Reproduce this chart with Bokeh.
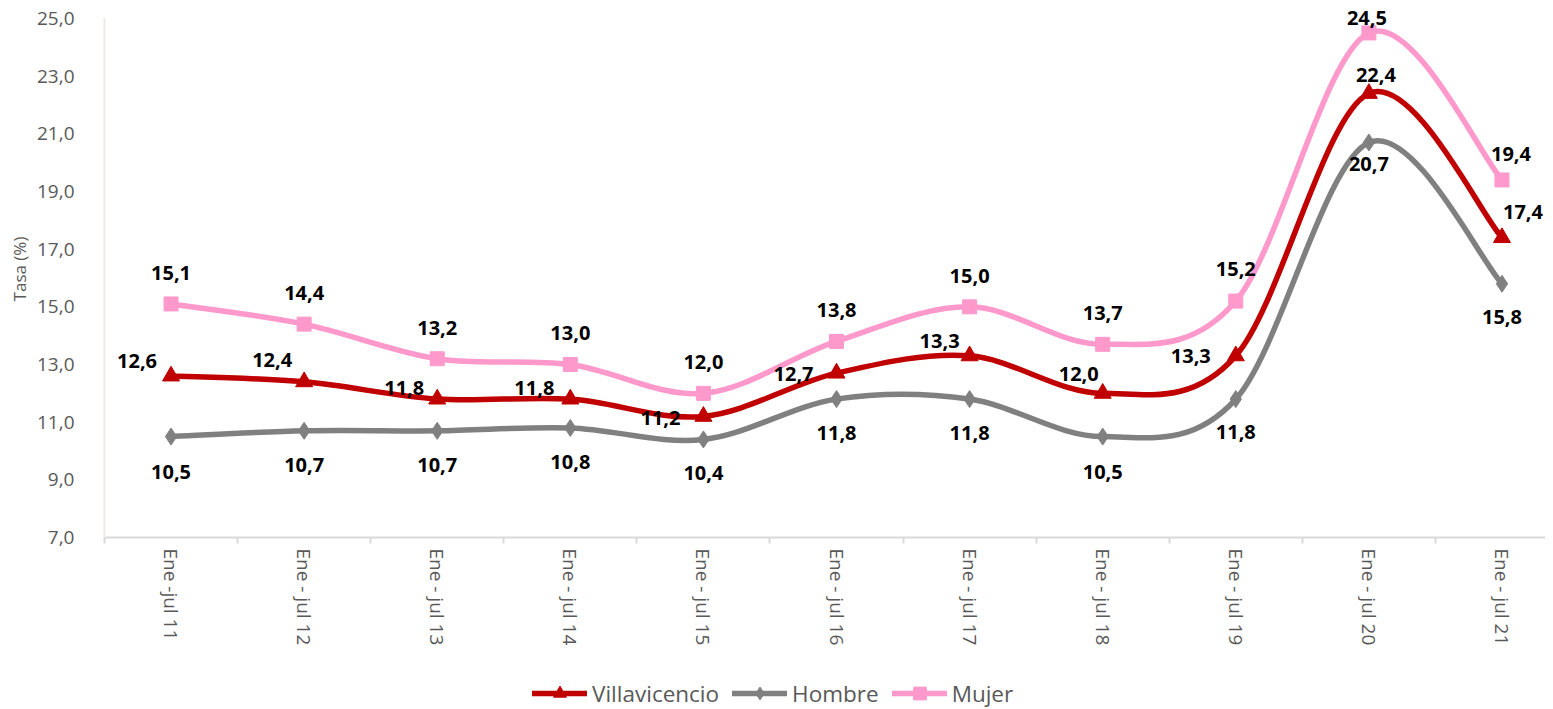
import math
from bokeh.plotting import figure
from bokeh.models import ColumnDataSource, FixedTicker, Legend, LegendItem, Range1d
from bokeh.layouts import column
from bokeh.core.properties import value
from bokeh.embed import file_html
from bokeh.resources import INLINE

# ---------------- data ----------------
categories = ["Ene -jul 11", "Ene - jul 12", "Ene - jul 13", "Ene - jul 14", "Ene - jul 15",
              "Ene - jul 16", "Ene - jul 17", "Ene - jul 18", "Ene - jul 19", "Ene - jul 20",
              "Ene - jul 21"]
villavicencio = [12.6, 12.4, 11.8, 11.8, 11.2, 12.7, 13.3, 12.0, 13.3, 22.4, 17.4]
hombre = [10.5, 10.7, 10.7, 10.8, 10.4, 11.8, 11.8, 10.5, 11.8, 20.7, 15.8]
mujer = [15.1, 14.4, 13.2, 13.0, 12.0, 13.8, 15.0, 13.7, 15.2, 24.5, 19.4]
y_ticks = [7, 9, 11, 13, 15, 17, 19, 21, 23, 25]
y_tick_labels = ["7,0", "9,0", "11,0", "13,0", "15,0", "17,0", "19,0", "21,0", "23,0", "25,0"]

# label placement (screen px, styling only)
villa_dx = [-34, -32, -33, -36, -43, -43, -30, -24, -45, 7, 21]
villa_dy = [-15, -22, -11, -11, 2, 1, -15, -19, 0, -18, -26]
hombre_dx = [0, 0, 0, 0, 0, 0, 0, 0, 0, 0, 0]
hombre_dy = [35, 34, 34, 34, 34, 34, 34, 35, 33, 22, 33]
mujer_dx = [0, 0, 0, 0, 0, 0, 0, 0, 0, -2, 9]
mujer_dy = [-31, -31, -31, -31, -31, -31, -31, -31, -32, -15, -26]

FONT = "Open Sans"
xs = list(range(len(categories)))


def fmt(v):
    return f"{v:.1f}".replace(".", ",")


def bezier_source(xv, yv):
    n = len(xv)
    d = dict(x0=[], y0=[], x1=[], y1=[], cx0=[], cy0=[], cx1=[], cy1=[])
    for i in range(n - 1):
        a = i - 1 if i > 0 else i
        b = i + 2 if i + 2 < n else i + 1
        d["x0"].append(xv[i]); d["y0"].append(yv[i])
        d["x1"].append(xv[i + 1]); d["y1"].append(yv[i + 1])
        d["cx0"].append(xv[i] + (xv[i + 1] - xv[a]) / 6)
        d["cy0"].append(yv[i] + (yv[i + 1] - yv[a]) / 6)
        d["cx1"].append(xv[i + 1] - (xv[b] - xv[i]) / 6)
        d["cy1"].append(yv[i + 1] - (yv[b] - yv[i]) / 6)
    return ColumnDataSource(d)


# frame: y=25 sits 18px below the frame top (frame top at 0) so top labels are not clipped
p = figure(width=1545, height=660, output_backend="svg", toolbar_location=None,
           x_range=Range1d(-0.5, 10.327), y_range=Range1d(7, 25.624),
           min_border_left=104, min_border_right=0, min_border_top=0, min_border_bottom=123)
p.outline_line_color = None
p.xgrid.visible = False
p.ygrid.visible = False
p.background_fill_color = "white"

# x axis
xa = p.xaxis[0]
xa.ticker = FixedTicker(ticks=xs, minor_ticks=[i - 0.5 for i in range(len(categories) + 1)])
xa.major_label_overrides = {i: c for i, c in enumerate(categories)}
xa.major_label_orientation = "vertical"
xa.major_label_text_font = FONT
xa.major_label_text_font_size = "19px"
xa.major_label_text_color = "#595959"
xa.major_tick_line_color = None
xa.major_tick_out = 6
xa.major_tick_in = 0
xa.minor_tick_out = 6
xa.minor_tick_in = 0
xa.minor_tick_line_color = "#D9D9D9"
xa.minor_tick_line_width = 2
xa.axis_line_color = "#D9D9D9"
xa.axis_line_width = 2
xa.major_label_standoff = 5

# y axis
ya = p.yaxis[0]
ya.ticker = FixedTicker(ticks=y_ticks)
ya.bounds = (7, 25)
ya.major_label_overrides = {t: l for t, l in zip(y_ticks, y_tick_labels)}
ya.major_label_text_font = FONT
ya.major_label_text_font_size = "19px"
ya.major_label_text_color = "#595959"
ya.major_tick_line_color = None
ya.minor_tick_line_color = None
ya.major_tick_out = 0
ya.major_tick_in = 0
ya.major_label_standoff = 30
ya.axis_line_color = "#ECEAE2"
ya.axis_line_width = 2
ya.axis_label = "Tasa (%)"
ya.axis_label_text_font = FONT
ya.axis_label_text_font_size = "17px"
ya.axis_label_text_font_style = "normal"
ya.axis_label_text_color = "#595959"
ya.axis_label_standoff = 3

series = [
    ("Villavicencio", villavicencio, "#C00000", "triangle", 17, villa_dx, villa_dy),
    ("Hombre", hombre, "#808080", "diamond", 17, hombre_dx, hombre_dy),
    ("Mujer", mujer, "#FF99CC", "square", 14, mujer_dx, mujer_dy),
]

for name, vals, color, marker, size, dx, dy in series:
    src = bezier_source(xs, vals)
    p.bezier(x0="x0", y0="y0", x1="x1", y1="y1", cx0="cx0", cy0="cy0", cx1="cx1", cy1="cy1",
             source=src, line_color=color, line_width=5.5, line_cap="round")
    p.scatter(x=xs, y=vals, marker=marker, size=size, fill_color=color, line_color=color)

for name, vals, color, marker, size, dx, dy in series:
    lsrc = ColumnDataSource(dict(x=xs, y=vals, t=[fmt(v) for v in vals], dx=dx, dy=dy))
    p.text(x="x", y="y", text="t", x_offset="dx", y_offset="dy", source=lsrc,
           text_font=value(FONT), text_font_style="bold", text_font_size="20px",
           text_color="black", text_align="center", text_baseline="middle")

# ---------------- legend strip ----------------
lf = figure(width=1545, height=49, output_backend="svg", toolbar_location=None,
            x_range=Range1d(0, 1), y_range=Range1d(0, 1), x_axis_type=None, y_axis_type=None,
            min_border=0)
lf.outline_line_color = None
lf.xgrid.visible = False
lf.ygrid.visible = False

items = []
for name, vals, color, marker, size, dx, dy in series:
    ln = lf.line(x=[-10, -9], y=[-10, -9], line_color=color, line_width=5.5, line_cap="round")
    sc = lf.scatter(x=[-10], y=[-10], marker=marker, size=size, fill_color=color, line_color=color)
    items.append(LegendItem(label=name, renderers=[ln, sc]))

legend = Legend(items=items, orientation="horizontal", location=(428, 0),
                padding=0, margin=0, spacing=13, label_standoff=5,
                glyph_width=55, glyph_height=32,
                label_text_font=FONT, label_text_font_size="22.5px", label_text_color="#595959",
                border_line_color=None, background_fill_alpha=0)
lf.add_layout(legend, "center")

layout = column(p, lf, spacing=0)
open("out.html", "w").write(file_html(layout, INLINE))
